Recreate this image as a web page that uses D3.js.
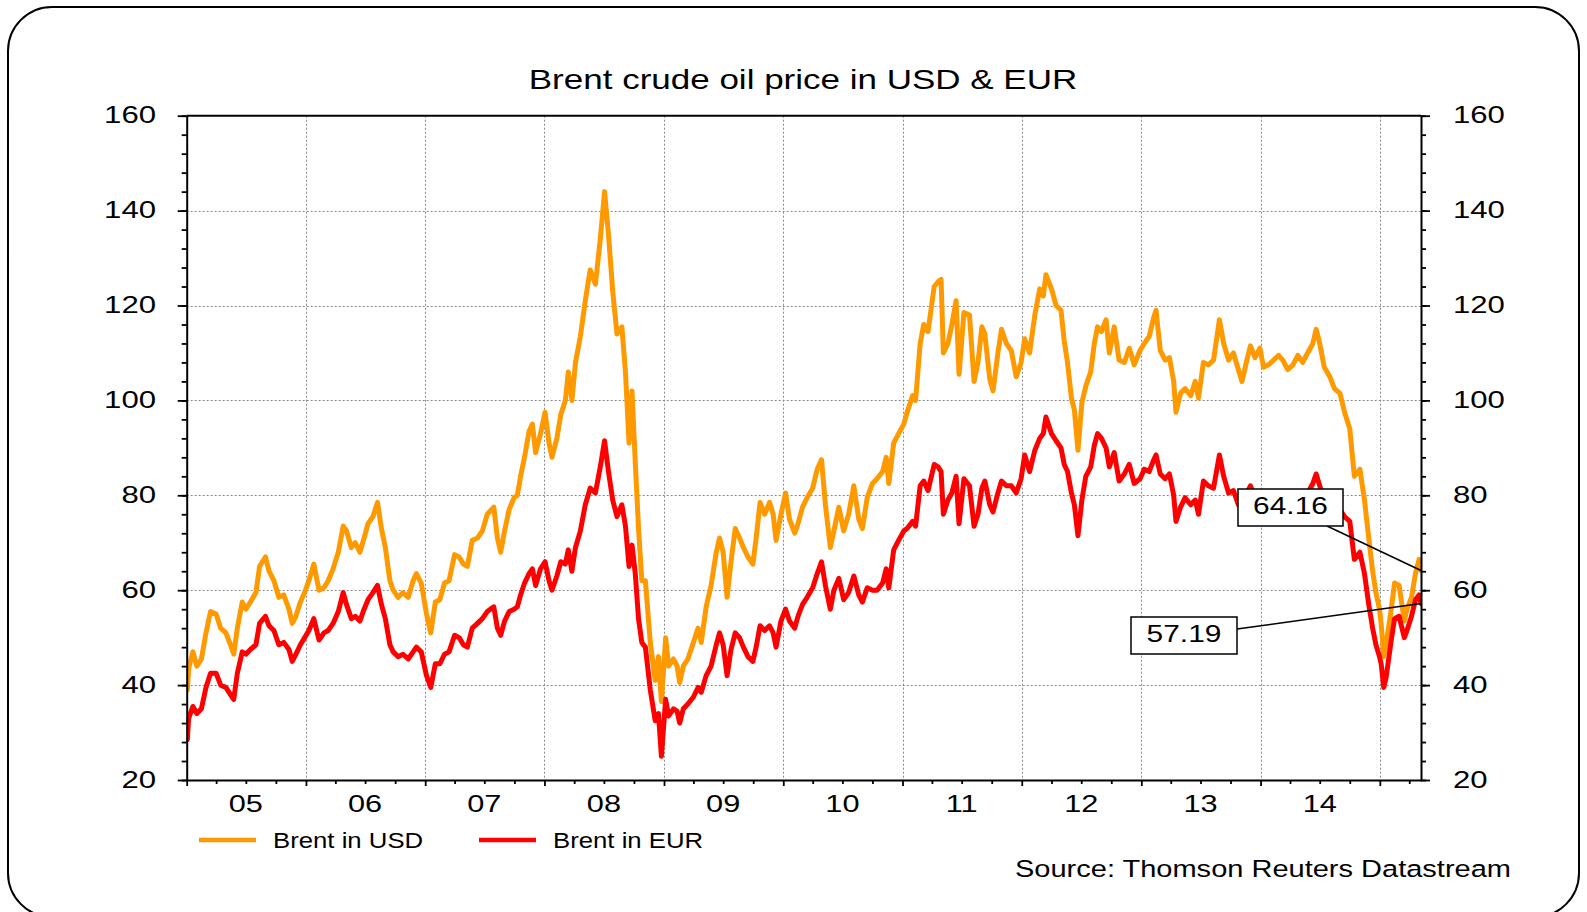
<!DOCTYPE html>
<html>
<head>
<meta charset="utf-8">
<script src="https://cdn.jsdelivr.net/npm/d3@7"></script>
<style>
  body { margin: 0; background: #fff; }
  svg { display: block; font-family: "Liberation Sans", Arial, sans-serif; }
</style>
</head>
<body>
<svg width="1587" height="912"></svg>
<script>
// Brent crude, semi-monthly readings taken off the chart (USD and EUR per barrel)
var dates = [
  "2005-01-03","2005-01-07","2005-01-20","2005-02-01","2005-02-15","2005-03-01","2005-03-15","2005-04-01","2005-04-15","2005-05-01","2005-05-15","2005-05-25","2005-06-05","2005-06-20","2005-07-01","2005-07-15","2005-08-01","2005-08-12","2005-08-30","2005-09-10","2005-09-25","2005-10-10","2005-10-25","2005-11-10","2005-11-20","2005-12-01","2005-12-15","2005-12-28",
  "2006-01-10","2006-01-25","2006-02-10","2006-02-25","2006-03-10","2006-03-25","2006-04-10","2006-04-25","2006-05-05","2006-05-20","2006-06-01","2006-06-15","2006-06-28","2006-07-10","2006-07-25","2006-08-08","2006-08-20","2006-09-01","2006-09-15","2006-09-25","2006-10-10","2006-10-25","2006-11-10","2006-11-25","2006-12-05","2006-12-20",
  "2007-01-05","2007-01-18","2007-02-01","2007-02-15","2007-03-01","2007-03-15","2007-04-01","2007-04-15","2007-04-28","2007-05-10","2007-05-25","2007-06-10","2007-06-25","2007-07-10","2007-07-30","2007-08-10","2007-08-20","2007-09-01","2007-09-15","2007-09-30","2007-10-10","2007-10-20","2007-11-01","2007-11-15","2007-11-25","2007-12-05","2007-12-20",
  "2008-01-03","2008-01-15","2008-01-24","2008-02-08","2008-02-20","2008-03-05","2008-03-14","2008-03-25","2008-04-05","2008-04-20","2008-05-05","2008-05-20","2008-06-05","2008-06-20","2008-07-03","2008-07-15","2008-07-28","2008-08-10","2008-08-25","2008-09-05","2008-09-16","2008-09-25","2008-10-05","2008-10-15","2008-10-25","2008-11-05","2008-11-20","2008-12-05","2008-12-15","2008-12-24",
  "2009-01-06","2009-01-15","2009-01-30","2009-02-10","2009-02-18","2009-03-01","2009-03-15","2009-04-01","2009-04-15","2009-04-25","2009-05-10","2009-05-25","2009-06-10","2009-06-20","2009-07-01","2009-07-13","2009-07-25","2009-08-07","2009-08-20","2009-09-01","2009-09-15","2009-09-30","2009-10-10","2009-10-22","2009-11-05","2009-11-20","2009-12-01","2009-12-10","2009-12-25",
  "2010-01-08","2010-01-20","2010-02-05","2010-02-15","2010-03-01","2010-03-15","2010-04-01","2010-04-15","2010-04-28","2010-05-10","2010-05-25","2010-06-05","2010-06-20","2010-07-05","2010-07-20","2010-08-05","2010-08-20","2010-08-31","2010-09-15","2010-10-01","2010-10-15","2010-11-01","2010-11-12","2010-11-20","2010-12-05","2010-12-20",
  "2011-01-05","2011-01-15","2011-02-01","2011-02-10","2011-02-24","2011-03-07","2011-03-20","2011-04-08","2011-04-20","2011-04-29","2011-05-06","2011-05-20","2011-06-01","2011-06-14","2011-06-23","2011-07-08","2011-07-25","2011-08-08","2011-08-20","2011-09-01","2011-09-10","2011-09-25","2011-10-05","2011-10-20","2011-10-31","2011-11-15","2011-11-30","2011-12-15","2011-12-30",
  "2012-01-10","2012-01-25","2012-02-10","2012-02-25","2012-03-07","2012-03-15","2012-04-01","2012-04-15","2012-04-30","2012-05-10","2012-05-20","2012-06-01","2012-06-10","2012-06-21","2012-07-03","2012-07-15","2012-07-30","2012-08-10","2012-08-20","2012-09-01","2012-09-15","2012-09-25","2012-10-10","2012-10-25","2012-11-10","2012-11-25","2012-12-10","2012-12-28",
  "2013-01-10","2013-01-25","2013-02-08","2013-02-15","2013-02-28","2013-03-15","2013-03-28","2013-04-10","2013-04-17","2013-05-01","2013-05-15","2013-06-01","2013-06-15","2013-06-25","2013-07-10","2013-07-25","2013-08-10","2013-08-28","2013-09-10","2013-09-25","2013-10-10","2013-10-25","2013-11-05","2013-11-20","2013-12-01","2013-12-15","2013-12-30",
  "2014-01-10","2014-01-25","2014-02-10","2014-02-25","2014-03-10","2014-03-25","2014-04-10","2014-04-25","2014-05-10","2014-05-25","2014-06-10","2014-06-20","2014-07-01","2014-07-15","2014-08-01","2014-08-15","2014-09-01","2014-09-15","2014-10-01","2014-10-15","2014-11-01","2014-11-15","2014-11-28","2014-12-10","2014-12-20","2014-12-31",
  "2015-01-05","2015-01-13","2015-01-20","2015-02-05","2015-02-15","2015-03-01","2015-03-17","2015-03-25","2015-04-08","2015-04-20","2015-05-01","2015-05-07"
];

var brentUSD = [
  39,43.5,47,44,45.5,51,55.5,55,52,51,48.5,46.5,52,57.5,56,57.5,59.5,65,67,64,62,58.5,59,56,53,54.5,57.5,59.5,
  62,65.5,60,60.5,62,64.5,68,73.5,72.5,69,70,68,71,74,75.5,78.5,73,69,62,60,58.5,59.5,58.5,62,63.5,61.5,
  55,51,57.5,58,61.5,62,67.5,67,65.5,65,70.5,71,72.5,76,77.5,71,68,72.5,77,79.5,80,84,88,93.5,95,89,93,
  97.5,91,88,92,97,100,106,100,108,113.5,121,127.5,124.5,134,144,135,123,114,115.5,106,91,102,87,73,62,62,49,41,46,36.5,
  50,44,45.5,44,40.5,44,45.5,49,52,49,56.5,61,68,71,68,58.5,66,73,71,69,67,65.5,71,78.5,76,78.5,76,70.5,76,
  80.5,75,72,74,77.5,79.5,81.5,85.5,87.5,78,69,72.5,77.5,72.5,76,82,75,73,79.5,82.5,83.5,85,88,82.5,91,93,
  95,97.5,101,100,112,116,114.5,124,125,125.5,110,112,116,121,105.5,118.5,118,104,108,115.5,114,104.5,102,110,115,112,110.5,105,108,
  113,110,118,123.5,122,126.5,123.5,120,119,112.5,108,100.5,98,89.5,99.5,103,106,112,115.5,114.5,117,110,115.5,108.5,108,111,107.5,110.5,
  112,113.5,117.5,119,110.5,108.5,109,104,97.5,101.5,102.5,101,104,100.5,108,107.5,108.5,117,112,108.5,110,106.5,104,108.5,111.5,109,111,
  107,107.5,108.5,109.5,108.5,106.5,107.5,109.5,108,110,112,115,112,107,105,102.5,101.5,97.5,94,84,85.5,79,71,64,59.5,56,
  53,46,48.5,56,61.5,61,53.5,56,58.5,63.5,66.5,64.16
];

var brentEUR = [
  28.5,33,35.5,34,35,39.5,42.5,42.5,40,39.5,38,37,42.5,47,46.5,47.5,48.5,53,54.5,52.5,51.5,48.5,49,47.5,45,46.5,48.5,50,
  51.5,54,49.5,51,51.5,53,55.5,59.5,57,54,54.5,53.5,56,58,59.5,61,57,54,48.5,47,46,46.5,45.5,47,48,47,
  42,39.5,44.5,44.5,46.5,47,50.5,50,48.5,48,52,53,54,55.5,56.5,52,50.5,53.5,55.5,56,56.5,59,61.5,63.5,64.5,61,64.5,
  66,62,60,63,66,65.5,68.5,64,69,72.5,78,81.5,80.5,86,91.5,85,79,75.5,78,73.5,65,69.5,63.5,54,49,48,39,32.5,34,25,
  37,33.5,35,34.5,32,35,36,37.5,39.5,38.5,42,44,48.5,51,48.5,42,47.5,51,50,48,46,45,48,52.5,51.5,52.5,51,48,53.5,
  56,53.5,52,54.5,57,58.5,60.5,63.5,66,61,56,60,62.5,58,59.5,63,59,57.5,60.5,60,60,61.5,64.5,60.5,68.5,70.5,
  72.5,73,74.5,73.5,82,83,81,86.5,86,85,76,79,80.5,84,74,83.5,82,73.5,76,81.5,83,78,76.5,80.5,83,82,82,80.5,83.5,
  88.5,85,89.5,92,93,96.5,93,91.5,90,86.5,85,80.5,78,71.5,79,84,86,90.5,93,92,90,86,89,83,84.5,86.5,82.5,83.5,
  85.5,85,87.5,88.5,84.5,83.5,84.5,80,74.5,77.5,79.5,78,79,76,83,82,81.5,88.5,84,80.5,81,78,77.5,80.5,82,79.5,80.5,
  78.5,79,79.5,80,78,77,77.5,79,78.5,80.5,82.5,84.5,82,79,78.5,76.5,77,75.5,74.5,66.5,68,63.5,57,52,48.5,46,
  44.5,39.5,41.5,49.5,54,54.5,50,51.5,54.5,58,59,57.19
];

var yearLabels = ["05","06","07","08","09","10","11","12","13","14"];
var yTicks = [20, 40, 60, 80, 100, 120, 140, 160];
var seriesNames = ["Brent in USD", "Brent in EUR"];
var seriesColors = ["#ff9900", "#ff0000"];
var lastLabels = ["64.16", "57.19"];

var svg = d3.select("svg");
var parse = d3.timeParse("%Y-%m-%d");

var plot = {left: 186.7, right: 1421, top: 115.7, bottom: 780};

var parsed = dates.map(parse);
var usd = parsed.map(function(d, i) { return {date: d, value: brentUSD[i]}; });
var eur = parsed.map(function(d, i) { return {date: d, value: brentEUR[i]}; });

var x = d3.scaleTime()
    .domain([new Date(2005, 0, 1), parsed[parsed.length - 1]])
    .range([plot.left, plot.right]);

var y = d3.scaleLinear()
    .domain([20, 160])
    .range([plot.bottom, plot.top]);

// outer rounded frame
svg.append("rect")
    .attr("x", 8).attr("y", 7)
    .attr("width", 1571).attr("height", 910)
    .attr("rx", 44)
    .attr("fill", "none")
    .attr("stroke", "#000")
    .attr("stroke-width", 2);

// title
svg.append("text")
    .attr("transform", "translate(803,89) scale(1.25,1)")
    .attr("text-anchor", "middle")
    .attr("font-size", 28)
    .text("Brent crude oil price in USD & EUR");

var yearStarts = yearLabels.map(function(l, i) { return new Date(2005 + i, 0, 1); });
yearStarts.push(new Date(2015, 0, 1));
var midYears = yearLabels.map(function(l, i) { return new Date(2005 + i, 6, 1); });
var quarters = d3.timeMonth.every(3).range(new Date(2005, 0, 1), x.domain()[1])
    .filter(function(d) { return d.getMonth() !== 0; });

// grid
var grid = svg.append("g")
    .attr("stroke", "#8a8a8a")
    .attr("stroke-width", 1)
    .attr("stroke-dasharray", "2,2");

grid.selectAll(".vg")
  .data(yearStarts.slice(1))
  .join("line")
    .attr("class", "vg")
    .attr("x1", function(d) { return Math.round(x(d)) + 0.5; })
    .attr("x2", function(d) { return Math.round(x(d)) + 0.5; })
    .attr("y1", plot.top)
    .attr("y2", plot.bottom);

grid.selectAll(".hg")
  .data(yTicks.slice(1, -1))
  .join("line")
    .attr("class", "hg")
    .attr("x1", plot.left)
    .attr("x2", plot.right)
    .attr("y1", function(d) { return Math.round(y(d)) + 0.5; })
    .attr("y2", function(d) { return Math.round(y(d)) + 0.5; });

// lines
svg.append("defs").append("clipPath")
    .attr("id", "clip")
  .append("rect")
    .attr("x", plot.left)
    .attr("y", plot.top)
    .attr("width", plot.right - plot.left)
    .attr("height", plot.bottom - plot.top);

var line = d3.line()
    .x(function(d) { return x(d.date); })
    .y(function(d) { return y(d.value); });

var lines = svg.append("g").attr("clip-path", "url(#clip)");
[usd, eur].forEach(function(s, i) {
  lines.append("path")
      .datum(s)
      .attr("fill", "none")
      .attr("stroke", seriesColors[i])
      .attr("stroke-width", 5)
      .attr("stroke-linejoin", "round")
      .attr("stroke-linecap", "round")
      .attr("d", line);
});

// axes
function styleAxis(g) {
  g.selectAll("path, line").attr("stroke", "#000").attr("stroke-width", 1.8);
  g.select(".domain").attr("stroke-width", 2);
}

svg.append("g")
    .attr("transform", "translate(0," + plot.bottom + ")")
    .call(d3.axisBottom(x).tickValues(yearStarts).tickSize(6).tickSizeOuter(0).tickFormat(""))
    .call(styleAxis);

svg.append("g")
    .attr("transform", "translate(0," + plot.bottom + ")")
    .call(d3.axisBottom(x).tickValues(quarters).tickSize(4).tickFormat(""))
    .call(styleAxis)
    .call(function(g) { g.select(".domain").remove(); });

var minorY = d3.range(20, 161, 4);

svg.append("g")
    .attr("transform", "translate(" + plot.left + ",0)")
    .call(d3.axisLeft(y).tickValues(yTicks).tickSize(9).tickSizeOuter(0).tickFormat(""))
    .call(styleAxis);
svg.append("g")
    .attr("transform", "translate(" + plot.left + ",0)")
    .call(d3.axisLeft(y).tickValues(minorY).tickSize(5).tickFormat(""))
    .call(styleAxis)
    .call(function(g) { g.select(".domain").remove(); });

svg.append("g")
    .attr("transform", "translate(" + plot.right + ",0)")
    .call(d3.axisRight(y).tickValues(yTicks).tickSize(9).tickSizeOuter(0).tickFormat(""))
    .call(styleAxis);
svg.append("g")
    .attr("transform", "translate(" + plot.right + ",0)")
    .call(d3.axisRight(y).tickValues(minorY).tickSize(5).tickFormat(""))
    .call(styleAxis)
    .call(function(g) { g.select(".domain").remove(); });

// top frame line
svg.append("line")
    .attr("x1", plot.left).attr("x2", plot.right)
    .attr("y1", plot.top).attr("y2", plot.top)
    .attr("stroke", "#000").attr("stroke-width", 2);

// tick labels
svg.append("g").selectAll("text")
  .data(yTicks)
  .join("text")
    .attr("transform", function(d) { return "translate(156," + (y(d) + 7.5) + ") scale(1.27,1)"; })
    .attr("text-anchor", "end")
    .attr("font-size", 24.5)
    .text(function(d) { return d; });

svg.append("g").selectAll("text")
  .data(yTicks)
  .join("text")
    .attr("transform", function(d) { return "translate(1453," + (y(d) + 7.5) + ") scale(1.27,1)"; })
    .attr("text-anchor", "start")
    .attr("font-size", 24.5)
    .text(function(d) { return d; });

svg.append("g").selectAll("text")
  .data(midYears)
  .join("text")
    .attr("transform", function(d) { return "translate(" + x(d) + ",812) scale(1.28,1)"; })
    .attr("text-anchor", "middle")
    .attr("font-size", 24)
    .text(function(d, i) { return yearLabels[i]; });

// end-value call-outs
var callouts = [
  {box: [1238, 489, 105, 37], anchor: [1327, 526], value: brentUSD[brentUSD.length - 1], text: lastLabels[0]},
  {box: [1131, 617, 106, 37], anchor: [1237, 629], value: brentEUR[brentEUR.length - 1], text: lastLabels[1]}
];
callouts.forEach(function(c) {
  svg.append("line")
      .attr("x1", c.anchor[0]).attr("y1", c.anchor[1])
      .attr("x2", plot.right).attr("y2", y(c.value))
      .attr("stroke", "#000").attr("stroke-width", 1.5);
  svg.append("rect")
      .attr("x", c.box[0]).attr("y", c.box[1])
      .attr("width", c.box[2]).attr("height", c.box[3])
      .attr("fill", "#fff")
      .attr("stroke", "#000").attr("stroke-width", 1.5);
  svg.append("text")
      .attr("transform", "translate(" + (c.box[0] + c.box[2] / 2) + "," + (c.box[1] + 25) + ") scale(1.3,1)")
      .attr("text-anchor", "middle")
      .attr("font-size", 23)
      .text(c.text);
});

// legend
var legendX = [199, 479];
seriesNames.forEach(function(name, i) {
  svg.append("line")
      .attr("x1", legendX[i]).attr("x2", legendX[i] + 57)
      .attr("y1", 840).attr("y2", 840)
      .attr("stroke", seriesColors[i])
      .attr("stroke-width", 4.5);
  svg.append("text")
      .attr("transform", "translate(" + (legendX[i] + 74) + ",848) scale(1.17,1)")
      .attr("font-size", 22)
      .text(name);
});

svg.append("text")
    .attr("transform", "translate(1511,877) scale(1.235,1)")
    .attr("text-anchor", "end")
    .attr("font-size", 23.5)
    .text("Source: Thomson Reuters Datastream");
</script>
</body>
</html>
